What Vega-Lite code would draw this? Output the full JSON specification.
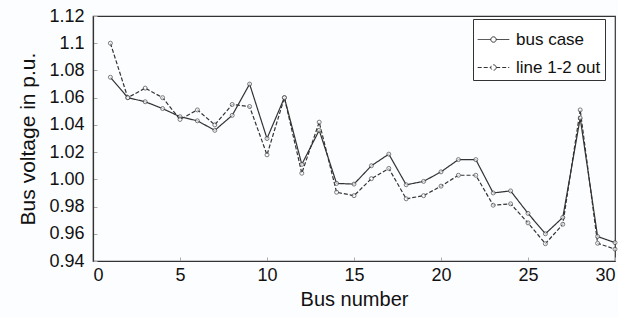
{
  "$schema": "https://vega.github.io/schema/vega-lite/v6.json",
  "width": 522,
  "height": 245,
  "autosize": {"type": "none"},
  "padding": {"left": 93, "top": 16, "right": 3, "bottom": 57},
  "background": "#fcfdff",
  "config": {
    "font": "Liberation Sans",
    "view": {"stroke": "#333333", "strokeWidth": 1.2}
  },
  "data": {
    "values": [
      {"bus": 1, "series": "bus case", "v": 1.075},
      {"bus": 2, "series": "bus case", "v": 1.060},
      {"bus": 3, "series": "bus case", "v": 1.057},
      {"bus": 4, "series": "bus case", "v": 1.052},
      {"bus": 5, "series": "bus case", "v": 1.046},
      {"bus": 6, "series": "bus case", "v": 1.043},
      {"bus": 7, "series": "bus case", "v": 1.036},
      {"bus": 8, "series": "bus case", "v": 1.047},
      {"bus": 9, "series": "bus case", "v": 1.070},
      {"bus": 10, "series": "bus case", "v": 1.030},
      {"bus": 11, "series": "bus case", "v": 1.060},
      {"bus": 12, "series": "bus case", "v": 1.011},
      {"bus": 13, "series": "bus case", "v": 1.036},
      {"bus": 14, "series": "bus case", "v": 0.997},
      {"bus": 15, "series": "bus case", "v": 0.9965},
      {"bus": 16, "series": "bus case", "v": 1.010},
      {"bus": 17, "series": "bus case", "v": 1.0185},
      {"bus": 18, "series": "bus case", "v": 0.996},
      {"bus": 19, "series": "bus case", "v": 0.9985},
      {"bus": 20, "series": "bus case", "v": 1.0055},
      {"bus": 21, "series": "bus case", "v": 1.0145},
      {"bus": 22, "series": "bus case", "v": 1.0145},
      {"bus": 23, "series": "bus case", "v": 0.990},
      {"bus": 24, "series": "bus case", "v": 0.9915},
      {"bus": 25, "series": "bus case", "v": 0.975},
      {"bus": 26, "series": "bus case", "v": 0.960},
      {"bus": 27, "series": "bus case", "v": 0.972},
      {"bus": 28, "series": "bus case", "v": 1.045},
      {"bus": 29, "series": "bus case", "v": 0.958},
      {"bus": 30, "series": "bus case", "v": 0.9535},
      {"bus": 1, "series": "line 1-2 out", "v": 1.100},
      {"bus": 2, "series": "line 1-2 out", "v": 1.060},
      {"bus": 3, "series": "line 1-2 out", "v": 1.067},
      {"bus": 4, "series": "line 1-2 out", "v": 1.060},
      {"bus": 5, "series": "line 1-2 out", "v": 1.044},
      {"bus": 6, "series": "line 1-2 out", "v": 1.051},
      {"bus": 7, "series": "line 1-2 out", "v": 1.040},
      {"bus": 8, "series": "line 1-2 out", "v": 1.055},
      {"bus": 9, "series": "line 1-2 out", "v": 1.0535},
      {"bus": 10, "series": "line 1-2 out", "v": 1.018},
      {"bus": 11, "series": "line 1-2 out", "v": 1.060},
      {"bus": 12, "series": "line 1-2 out", "v": 1.0045},
      {"bus": 13, "series": "line 1-2 out", "v": 1.042},
      {"bus": 14, "series": "line 1-2 out", "v": 0.9905},
      {"bus": 15, "series": "line 1-2 out", "v": 0.988},
      {"bus": 16, "series": "line 1-2 out", "v": 1.0005},
      {"bus": 17, "series": "line 1-2 out", "v": 1.008},
      {"bus": 18, "series": "line 1-2 out", "v": 0.9857},
      {"bus": 19, "series": "line 1-2 out", "v": 0.988},
      {"bus": 20, "series": "line 1-2 out", "v": 0.995},
      {"bus": 21, "series": "line 1-2 out", "v": 1.003},
      {"bus": 22, "series": "line 1-2 out", "v": 1.003},
      {"bus": 23, "series": "line 1-2 out", "v": 0.981},
      {"bus": 24, "series": "line 1-2 out", "v": 0.982},
      {"bus": 25, "series": "line 1-2 out", "v": 0.968},
      {"bus": 26, "series": "line 1-2 out", "v": 0.9527},
      {"bus": 27, "series": "line 1-2 out", "v": 0.967},
      {"bus": 28, "series": "line 1-2 out", "v": 1.051},
      {"bus": 29, "series": "line 1-2 out", "v": 0.953},
      {"bus": 30, "series": "line 1-2 out", "v": 0.9487}
    ]
  },
  "encoding": {
    "x": {
      "field": "bus",
      "type": "quantitative",
      "scale": {"domain": [0, 30], "nice": false, "zero": false},
      "axis": {
        "values": [0, 5, 10, 15, 20, 25, 30],
        "title": "Bus number",
        "titleFontSize": 20,
        "titleFontWeight": "normal",
        "titleColor": "#111111",
        "titlePadding": 5,
        "labelFontSize": 18,
        "labelColor": "#111111",
        "labelPadding": 9,
        "labelFlush": true,
        "tickSize": -4,
        "tickColor": "#aaaaaa",
        "domainColor": "#333333",
        "domainWidth": 1.2,
        "grid": false
      }
    },
    "y": {
      "field": "v",
      "type": "quantitative",
      "scale": {"domain": [0.94, 1.12], "nice": false, "zero": false},
      "axis": {
        "values": [0.94, 0.96, 0.98, 1.0, 1.02, 1.04, 1.06, 1.08, 1.1, 1.12],
        "labelExpr": "abs(datum.value - 1.1) < 0.0001 ? '1.1' : format(datum.value, '.2f')",
        "title": "Bus voltage in p.u.",
        "titleFontSize": 21,
        "titleFontWeight": "normal",
        "titleColor": "#111111",
        "titlePadding": 10,
        "labelFontSize": 18,
        "labelColor": "#111111",
        "labelPadding": 13,
        "labelFlush": false,
        "tickSize": -4,
        "tickColor": "#aaaaaa",
        "domainColor": "#333333",
        "domainWidth": 1.2,
        "grid": false
      }
    }
  },
  "layer": [
    {
      "mark": {"type": "line", "strokeWidth": 1.2, "color": "#333333", "clip": false},
      "encoding": {
        "strokeDash": {
          "field": "series",
          "type": "nominal",
          "scale": {"domain": ["bus case", "line 1-2 out"], "range": [[1, 0], [4, 2]]},
          "legend": {
            "title": null,
            "orient": "none",
            "legendX": 380,
            "legendY": 3,
            "strokeColor": "#333333",
            "fillColor": "#ffffff",
            "padding": 4,
            "labelFontSize": 17,
            "labelColor": "#111111",
            "symbolType": "M-1,0H-0.17M0.17,0H1M0.17,0A0.17,0.17 0 1,1 -0.17,0A0.17,0.17 0 1,1 0.17,0",
            "symbolSize": 1000,
            "symbolStrokeColor": "#333333",
            "symbolFillColor": "#ffffff",
            "symbolStrokeWidth": 1,
            "symbolOpacity": 1,
            "rowPadding": 3,
            "labelOffset": 6
          }
        }
      }
    },
    {
      "mark": {"type": "point", "shape": "circle", "filled": false, "fill": "#fcfdff", "stroke": "#444444", "size": 16, "strokeWidth": 1, "clip": false},
      "encoding": {"detail": {"field": "series", "type": "nominal"}}
    }
  ]
}
